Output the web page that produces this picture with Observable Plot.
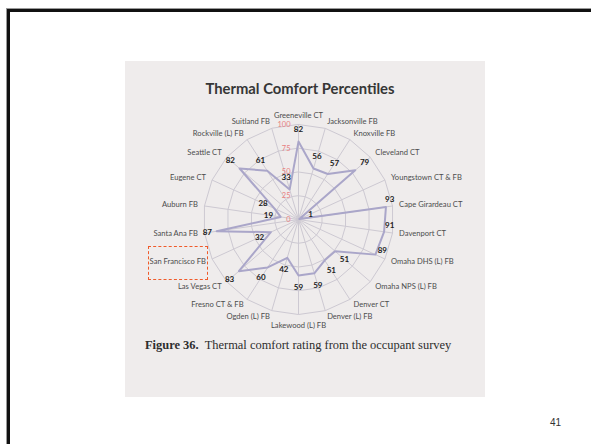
<!DOCTYPE html>
<html>
<head>
<meta charset="utf-8">
<script src="https://cdn.jsdelivr.net/npm/d3@7"></script>
<script src="https://cdn.jsdelivr.net/npm/@observablehq/plot@0.6"></script>
<style>
  html, body { margin: 0; padding: 0; background: #ffffff; }
  body { width: 591px; height: 444px; position: relative; overflow: hidden; }
  #frame { position: absolute; left: 7px; top: 9px; width: 700px; height: 600px;
           border-top: 3px solid #111; border-left: 3px solid #111;
           box-shadow: -1px -1px 0 #9a9a9a; }
  #scan { position: absolute; left: 125px; top: 61px; width: 360px; height: 336px; background: #efecec; }
  #title { position: absolute; left: 125px; width: 350px; top: 79px; text-align: center;
           font-family: Lato, "Open Sans", sans-serif; font-weight: bold; font-size: 14.8px; color: #363636; }
  #caption { position: absolute; left: 145px; top: 338px; white-space: nowrap;
             font-family: "Liberation Serif", "DejaVu Serif", serif; font-size: 12.45px; color: #2e2e2e; }
  #pagenum { position: absolute; left: 550px; top: 417px; font-family: "Liberation Sans", Arial, sans-serif;
             font-size: 10px; color: #333; }
  #note { position: absolute; left: 148px; top: 246px; width: 58px; height: 32px;
          border: 1.5px dashed #f05a2a; }
  #chart { position: absolute; left: 0; top: 0; }
</style>
</head>
<body>
<div id="frame"></div>
<div id="scan"></div>
<div id="title">Thermal Comfort Percentiles</div>
<div id="chart"></div>
<div id="note"></div>
<div id="caption"><b>Figure 36.</b>&nbsp; Thermal comfort rating from the occupant survey</div>
<div id="pagenum">41</div>
<script>
const categories = ["Greeneville CT","Jacksonville FB","Knoxville FB","Cleveland CT","Youngstown CT & FB",
  "Cape Girardeau CT","Davenport CT","Omaha DHS (L) FB","Omaha NPS (L) FB","Denver CT","Denver (L) FB",
  "Lakewood (L) FB","Ogden (L) FB","Fresno CT & FB","Las Vegas CT","San Francisco FB","Santa Ana FB",
  "Auburn FB","Eugene CT","Seattle CT","Rockville (L) FB","Suitland FB"];
const values = [82,56,57,79,1,93,91,89,51,51,59,59,42,60,83,32,87,19,28,82,61,33];
const tickValues = [0,25,50,75,100];
const ringLevels = [25,50,75,100];

const N = categories.length;
const ang = i => 2 * Math.PI * i / N;
const X = (r, i) => r * Math.sin(ang(i));
const Y = (r, i) => r * Math.cos(ang(i));

const pts = categories.map((c, i) => ({c, i, v: values[i]}));
const rings = ringLevels.flatMap(l => categories.map((c, i) => ({l, i})));
const labR = 107;
const valR = v => Math.min(v + 13, 97);
const rightLabs = pts.filter(d => d.i > 0 && d.i < N / 2);
const leftLabs = pts.filter(d => d.i > N / 2);
const topLabs = pts.filter(d => d.i === 0);
const bottomLabs = pts.filter(d => d.i === N / 2);
const crowdedVals = pts.filter(d => d.i > 0 && d.i < N / 2 && d.v + 13 > 97);
const otherVals = pts.filter(d => !crowdedVals.includes(d));
const labFont = "Lato, 'Open Sans', sans-serif";
const labColor = "#4d4d4d";

const plot = Plot.plot({
  width: 591, height: 444,
  margin: 0,
  x: {domain: [-100, 100], range: [203, 393], axis: null},
  y: {domain: [-100, 100], range: [314, 124], axis: null},
  style: {background: "transparent", overflow: "visible"},
  marks: [
    Plot.line(rings, {x: d => X(d.l, d.i), y: d => Y(d.l, d.i), z: "l", curve: "linear-closed",
      stroke: "#cdc9d2", strokeWidth: 1}),
    Plot.link(pts, {x1: 0, y1: 0, x2: d => X(100, d.i), y2: d => Y(100, d.i), stroke: "#cdc9d2", strokeWidth: 1}),
    Plot.line(pts, {x: d => X(d.v, d.i), y: d => Y(d.v, d.i), curve: "linear-closed",
      stroke: "#aaa6c9", strokeWidth: 2}),
    Plot.text(tickValues, {x: 0, y: d => d, text: d => String(d), dx: -8, textAnchor: "end",
      fill: "#e88080", fontSize: 7.5, fontFamily: labFont}),
    Plot.text(rightLabs, {x: d => X(labR, d.i), y: d => Y(labR, d.i), text: "c", textAnchor: "start",
      fill: labColor, fontSize: 7.6, fontFamily: labFont}),
    Plot.text(leftLabs, {x: d => X(labR, d.i), y: d => Y(labR, d.i), text: "c", textAnchor: "end",
      fill: labColor, fontSize: 7.6, fontFamily: labFont}),
    Plot.text(topLabs, {x: d => X(labR, d.i), y: d => Y(labR, d.i), text: "c", lineAnchor: "bottom",
      fill: labColor, fontSize: 7.6, fontFamily: labFont}),
    Plot.text(bottomLabs, {x: d => X(labR, d.i), y: d => Y(labR, d.i), text: "c", lineAnchor: "top", dy: 1,
      fill: labColor, fontSize: 7.6, fontFamily: labFont}),
    Plot.text(otherVals, {x: d => X(valR(d.v), d.i), y: d => Y(valR(d.v), d.i), text: d => String(d.v),
      fill: "#222", fontWeight: "bold", fontSize: 8, fontFamily: labFont}),
    Plot.text(crowdedVals, {x: d => X(valR(d.v), d.i), y: d => Y(valR(d.v), d.i), text: d => String(d.v), dy: -7,
      fill: "#222", fontWeight: "bold", fontSize: 8, fontFamily: labFont})
  ]
});
document.getElementById("chart").appendChild(plot);
</script>
</body>
</html>
